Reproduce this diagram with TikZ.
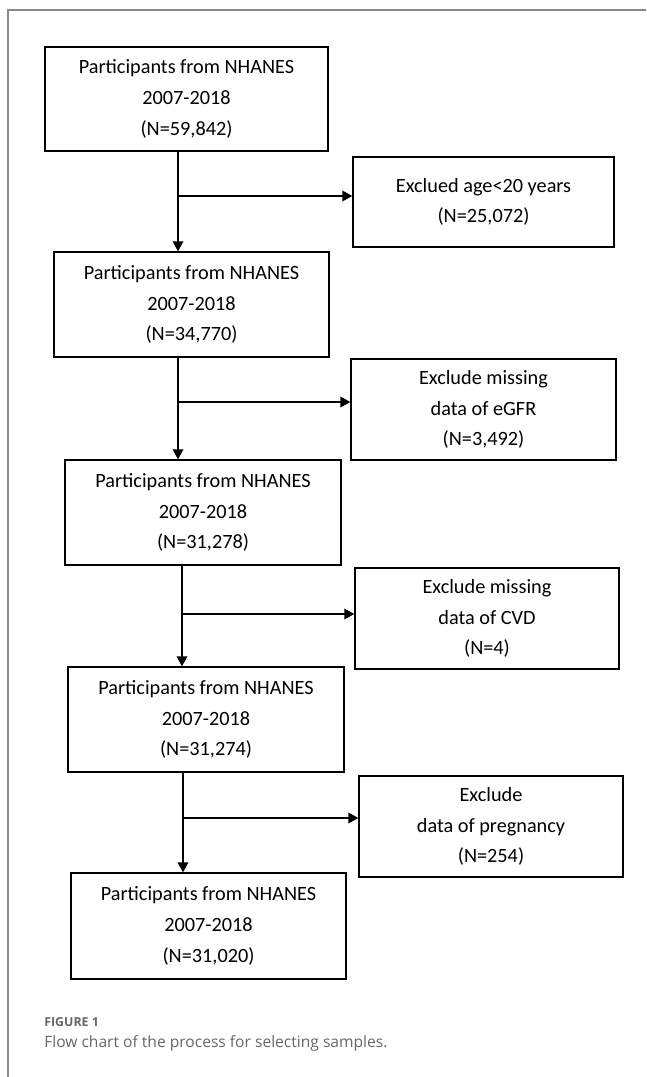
\documentclass[tikz,border=0pt]{standalone}
\usepackage{fontspec}
\setmainfont{Carlito}
\newfontfamily\capfont{Open Sans}
\usetikzlibrary{arrows.meta}
\definecolor{framegray}{HTML}{8A8A8A}
\definecolor{capgray}{HTML}{666666}
\begin{document}
\begin{tikzpicture}[x=0.75pt,y=-0.75pt,
  box/.style={draw=black, line width=1pt, inner sep=0pt, align=center,
    font=\fontsize{15.2pt}{23pt}\selectfont},
  arr/.style={line width=1pt, -{Triangle[length=7.5pt,width=8pt]}},
  frameline/.style={draw=framegray, line width=0.8pt},
  captxt/.style={anchor=west, inner sep=0pt, text=capgray}]
\useasboundingbox (0,0) rectangle (646,1077);
\draw[frameline] (646,10) -- (8,10) -- (8,1077);

\node[box, minimum width=212.25pt, minimum height=78pt] (p1) at (186.5,99)
  {Participants from NHANES\\2007-2018\\(N=59,842)};
\node[box, minimum width=195.75pt, minimum height=67.5pt] (e1) at (483.5,202)
  {Exclued age<20 years\\(N=25,072)};
\node[box, minimum width=206.25pt, minimum height=78.75pt] (p2) at (191.5,304.5)
  {Participants from NHANES\\2007-2018\\(N=34,770)};
\node[box, minimum width=198.75pt, minimum height=75.75pt] (e2) at (483.5,409.5)
  {Exclude missing\\data of eGFR\\(N=3,492)};
\node[box, minimum width=207pt, minimum height=78.75pt] (p3) at (203,512.5)
  {Participants from NHANES\\2007-2018\\(N=31,278)};
\node[box, minimum width=198pt, minimum height=75.75pt] (e3) at (487,618.5)
  {Exclude missing\\data of CVD\\(N=4)};
\node[box, minimum width=207pt, minimum height=78.75pt] (p4) at (206,719.5)
  {Participants from NHANES\\2007-2018\\(N=31,274)};
\node[box, minimum width=198pt, minimum height=75.75pt] (e4) at (491,826.5)
  {Exclude\\data of pregnancy\\(N=254)};
\node[box, minimum width=206.25pt, minimum height=79.5pt] (p5) at (208.5,926)
  {Participants from NHANES\\2007-2018\\(N=31,020)};

\coordinate (v1) at (178,196);
\coordinate (v2) at (178,402);
\coordinate (v3) at (182,614);
\coordinate (v4) at (183,818);

\draw[arr] (p1.south -| v1) -- (p2.north -| v1);
\draw[arr] (v1) -- (v1 -| e1.west);
\draw[arr] (p2.south -| v2) -- (p3.north -| v2);
\draw[arr] (v2) -- (v2 -| e2.west);
\draw[arr] (p3.south -| v3) -- (p4.north -| v3);
\draw[arr] (v3) -- (v3 -| e3.west);
\draw[arr] (p4.south -| v4) -- (p5.north -| v4);
\draw[arr] (v4) -- (v4 -| e4.west);

\node[captxt, font=\capfont\bfseries\fontsize{9.3pt}{11pt}\selectfont] (fig) at (44,1022) {FIGURE 1};
\node[captxt, font=\capfont\fontsize{11.7pt}{14pt}\selectfont] (cap) at (44,1043)
  {Flow chart of the process for selecting samples.};
\end{tikzpicture}
\end{document}
